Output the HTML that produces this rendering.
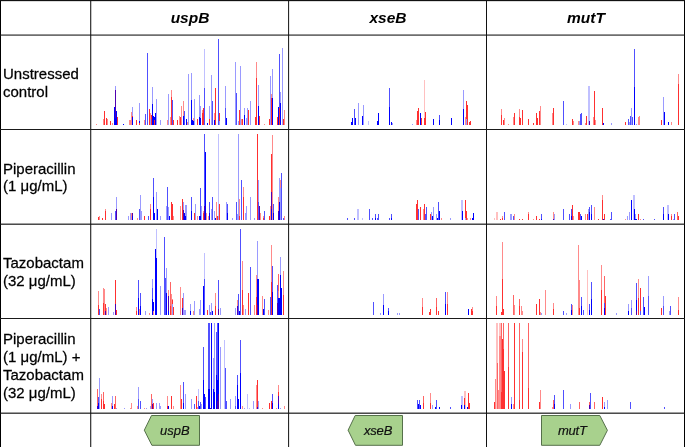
<!DOCTYPE html>
<html><head><meta charset="utf-8"><style>
html,body{margin:0;padding:0;background:#fff;}
body{-webkit-font-smoothing:antialiased;width:685px;height:447px;position:relative;overflow:hidden;font-family:"Liberation Sans",sans-serif;color:#000;}
svg{position:absolute;left:0;top:0;}
.t{position:absolute;will-change:transform;font-size:15px;line-height:18px;white-space:nowrap;-webkit-text-stroke:0.25px #000;transform:scaleY(1.001);transform-origin:0 14.2px;}
.h{position:absolute;will-change:transform;font-size:15.5px;line-height:18px;font-weight:bold;font-style:italic;text-align:center;width:198px;}
.g{position:absolute;will-change:transform;font-size:13px;line-height:15px;-webkit-text-stroke:0.2px #111;font-style:italic;white-space:nowrap;color:#111;}
</style></head><body>
<svg width="685" height="447" viewBox="0 0 685 447" shape-rendering="crispEdges">
<rect x="218" y="39" width="1" height="85.8" fill="#5050ff"/>
<rect x="282" y="48" width="1" height="76.8" fill="#9a9aff"/>
<rect x="204" y="49" width="1" height="75.8" fill="#c0c0ff"/>
<rect x="147" y="53" width="1" height="71.8" fill="#5050ff"/>
<rect x="279" y="54" width="1" height="70.8" fill="#5050ff"/>
<rect x="235" y="62" width="1" height="62.8" fill="#9a9aff"/>
<rect x="256" y="62" width="1" height="62.8" fill="#ff8a8a"/>
<rect x="240" y="66" width="1" height="58.8" fill="#9a9aff"/>
<rect x="272" y="69" width="1" height="55.8" fill="#9a9aff"/>
<rect x="191" y="73.2" width="1" height="51.6" fill="#9a9aff"/>
<rect x="188" y="73.7" width="1" height="51.1" fill="#9a9aff"/>
<rect x="211" y="75" width="1" height="49.8" fill="#9a9aff"/>
<rect x="270" y="76" width="1" height="48.8" fill="#9a9aff"/>
<rect x="256" y="78" width="1" height="46.8" fill="#ff3030"/>
<rect x="258" y="85" width="1" height="39.8" fill="#9a9aff"/>
<rect x="115" y="86" width="1" height="38.8" fill="#9a9aff"/>
<rect x="225" y="86" width="1" height="38.8" fill="#9a9aff"/>
<rect x="152" y="87" width="1" height="37.8" fill="#9a9aff"/>
<rect x="204" y="88" width="1" height="36.8" fill="#5050ff"/>
<rect x="215" y="88" width="1" height="36.8" fill="#ff3030"/>
<rect x="171" y="89.5" width="1" height="35.3" fill="#ff8a8a"/>
<rect x="115" y="90" width="1" height="34.8" fill="#5000b0"/>
<rect x="280" y="92" width="1" height="32.8" fill="#9a9aff"/>
<rect x="236" y="93" width="1" height="31.8" fill="#5050ff"/>
<rect x="168" y="94" width="1" height="30.8" fill="#9a9aff"/>
<rect x="271" y="94" width="1" height="30.8" fill="#ff8a8a"/>
<rect x="199" y="95" width="1" height="29.8" fill="#9a9aff"/>
<rect x="171" y="97" width="1" height="27.8" fill="#ff3030"/>
<rect x="271" y="98" width="1" height="26.8" fill="#ff3030"/>
<rect x="272" y="98" width="1" height="26.8" fill="#0000ff"/>
<rect x="156" y="99" width="1" height="25.8" fill="#9a9aff"/>
<rect x="194" y="99" width="1" height="25.8" fill="#9a9aff"/>
<rect x="172" y="100" width="1" height="24.8" fill="#5050ff"/>
<rect x="191" y="100" width="1" height="24.8" fill="#0000ff"/>
<rect x="183" y="101" width="1" height="23.8" fill="#ff8a8a"/>
<rect x="212" y="101" width="1" height="23.8" fill="#5050ff"/>
<rect x="250" y="101" width="1" height="23.8" fill="#9a9aff"/>
<rect x="139" y="103" width="1" height="21.8" fill="#9a9aff"/>
<rect x="280" y="103" width="1" height="21.8" fill="#0000ff"/>
<rect x="152" y="104" width="1" height="20.8" fill="#0000ff"/>
<rect x="181" y="106" width="1" height="18.8" fill="#ff8a8a"/>
<rect x="200" y="106" width="1" height="18.8" fill="#9a9aff"/>
<rect x="209" y="106" width="1" height="18.8" fill="#9a9aff"/>
<rect x="258" y="106" width="1" height="18.8" fill="#0000ff"/>
<rect x="114" y="107" width="1" height="17.8" fill="#0000ff"/>
<rect x="132" y="107" width="1" height="17.8" fill="#9a9aff"/>
<rect x="278" y="107" width="1" height="17.8" fill="#0000ff"/>
<rect x="203" y="108" width="1" height="16.8" fill="#ff3030"/>
<rect x="225" y="108" width="1" height="16.8" fill="#5050ff"/>
<rect x="244" y="108" width="1" height="16.8" fill="#9a9aff"/>
<rect x="247" y="108" width="1" height="16.8" fill="#9a9aff"/>
<rect x="279" y="108" width="1" height="16.8" fill="#ff3030"/>
<rect x="149" y="109" width="1" height="15.8" fill="#ff3030"/>
<rect x="202" y="110" width="1" height="14.8" fill="#ff8a8a"/>
<rect x="239" y="110" width="1" height="14.8" fill="#ff3030"/>
<rect x="248" y="110" width="1" height="14.8" fill="#ff3030"/>
<rect x="284" y="110" width="1" height="14.8" fill="#ff8a8a"/>
<rect x="104" y="111" width="1" height="13.8" fill="#ff3030"/>
<rect x="116" y="111" width="1" height="13.8" fill="#0000ff"/>
<rect x="184" y="111" width="1" height="13.8" fill="#5050ff"/>
<rect x="131" y="112" width="1" height="12.8" fill="#ff8a8a"/>
<rect x="150" y="113" width="1" height="11.8" fill="#ff8a8a"/>
<rect x="155" y="113" width="1" height="11.8" fill="#0000ff"/>
<rect x="202" y="113" width="1" height="11.8" fill="#ff3030"/>
<rect x="214" y="113" width="1" height="11.8" fill="#ff8a8a"/>
<rect x="219" y="113" width="1" height="11.8" fill="#ff3030"/>
<rect x="145" y="114" width="1" height="10.8" fill="#5050ff"/>
<rect x="151" y="115" width="1" height="9.8" fill="#ff3030"/>
<rect x="244" y="115" width="1" height="9.8" fill="#0000ff"/>
<rect x="132" y="116" width="1" height="8.8" fill="#ff3030"/>
<rect x="153" y="116" width="1" height="8.8" fill="#0000ff"/>
<rect x="179" y="116" width="1" height="8.8" fill="#ff8a8a"/>
<rect x="183" y="116" width="1" height="8.8" fill="#0000ff"/>
<rect x="259" y="116" width="1" height="8.8" fill="#ff3030"/>
<rect x="117" y="117" width="1" height="7.8" fill="#ff3030"/>
<rect x="132" y="117" width="1" height="7.8" fill="#0000ff"/>
<rect x="154" y="117" width="1" height="7.8" fill="#0000ff"/>
<rect x="170" y="117" width="1" height="7.8" fill="#ff8a8a"/>
<rect x="180" y="117" width="1" height="7.8" fill="#ff3030"/>
<rect x="199" y="117" width="1" height="7.8" fill="#0000ff"/>
<rect x="255" y="117" width="1" height="7.8" fill="#ff3030"/>
<rect x="277" y="117" width="1" height="7.8" fill="#ff3030"/>
<rect x="106" y="118" width="1" height="6.8" fill="#ff3030"/>
<rect x="115" y="118" width="1" height="6.8" fill="#0000ff"/>
<rect x="116" y="118" width="1" height="6.8" fill="#0000ff"/>
<rect x="193" y="118" width="1" height="6.8" fill="#ff8a8a"/>
<rect x="200" y="118" width="1" height="6.8" fill="#0000ff"/>
<rect x="226" y="118" width="1" height="6.8" fill="#0000ff"/>
<rect x="246" y="118" width="1" height="6.8" fill="#9a9aff"/>
<rect x="103" y="119" width="1" height="5.8" fill="#ff8a8a"/>
<rect x="107" y="119" width="1" height="5.8" fill="#ff8a8a"/>
<rect x="150" y="119" width="1" height="5.8" fill="#9a9aff"/>
<rect x="186" y="119" width="1" height="5.8" fill="#0000ff"/>
<rect x="197" y="119" width="1" height="5.8" fill="#ff3030"/>
<rect x="209" y="119" width="1" height="5.8" fill="#ff3030"/>
<rect x="241" y="119" width="1" height="5.8" fill="#ff8a8a"/>
<rect x="242" y="119" width="1" height="5.8" fill="#ff3030"/>
<rect x="269" y="119" width="1" height="5.8" fill="#ff3030"/>
<rect x="283" y="119" width="1" height="5.8" fill="#ff3030"/>
<rect x="129" y="120" width="1" height="4.8" fill="#ff8a8a"/>
<rect x="130" y="120" width="1" height="4.8" fill="#ff8a8a"/>
<rect x="136" y="120" width="1" height="4.8" fill="#ff3030"/>
<rect x="144" y="120" width="1" height="4.8" fill="#ff8a8a"/>
<rect x="154" y="120" width="1" height="4.8" fill="#ff3030"/>
<rect x="160" y="120" width="1" height="4.8" fill="#9a9aff"/>
<rect x="167" y="120" width="1" height="4.8" fill="#ff8a8a"/>
<rect x="173" y="120" width="1" height="4.8" fill="#ff3030"/>
<rect x="177" y="120" width="1" height="4.8" fill="#ff3030"/>
<rect x="192" y="120" width="1" height="4.8" fill="#0000ff"/>
<rect x="214" y="120" width="1" height="4.8" fill="#0000ff"/>
<rect x="110" y="120.5" width="1" height="4.3" fill="#ff3030"/>
<rect x="139" y="121" width="1" height="3.8" fill="#0000ff"/>
<rect x="193" y="121" width="1" height="3.8" fill="#0000ff"/>
<rect x="219" y="121" width="1" height="3.8" fill="#9a9aff"/>
<rect x="238" y="121" width="1" height="3.8" fill="#9a9aff"/>
<rect x="187" y="122" width="1" height="2.8" fill="#ff8a8a"/>
<rect x="112" y="123" width="1" height="1.8" fill="#ff8a8a"/>
<rect x="139" y="123" width="1" height="1.8" fill="#ff3030"/>
<rect x="207" y="123" width="1" height="1.8" fill="#0000ff"/>
<rect x="96" y="124" width="1" height="0.8" fill="#ff8a8a"/>
<rect x="123" y="124" width="1" height="0.8" fill="#0000ff"/>
<rect x="264" y="124" width="1" height="0.8" fill="#ff8a8a"/>
<rect x="424" y="79.6" width="1" height="45.2" fill="#ffc0c0"/>
<rect x="389" y="88" width="1" height="36.8" fill="#5050ff"/>
<rect x="463" y="90" width="1" height="34.8" fill="#9a9aff"/>
<rect x="466" y="101" width="1" height="23.8" fill="#ff3030"/>
<rect x="358" y="103" width="1" height="21.8" fill="#9a9aff"/>
<rect x="467" y="104.7" width="1" height="20.1" fill="#ff3030"/>
<rect x="363" y="105" width="1" height="19.8" fill="#9a9aff"/>
<rect x="389" y="107" width="1" height="17.8" fill="#0000ff"/>
<rect x="418" y="108.3" width="1" height="16.5" fill="#ff3030"/>
<rect x="354" y="109" width="1" height="15.8" fill="#5050ff"/>
<rect x="463" y="109" width="1" height="15.8" fill="#0000ff"/>
<rect x="417" y="111" width="1" height="13.8" fill="#ff3030"/>
<rect x="425" y="112" width="1" height="12.8" fill="#ff3030"/>
<rect x="378" y="113.4" width="1" height="11.4" fill="#0000ff"/>
<rect x="420" y="113.4" width="1" height="11.4" fill="#0000ff"/>
<rect x="439" y="115" width="1" height="9.8" fill="#5050ff"/>
<rect x="362" y="116" width="1" height="8.8" fill="#0000ff"/>
<rect x="465" y="117.4" width="1" height="7.4" fill="#ff8a8a"/>
<rect x="355" y="118" width="1" height="6.8" fill="#0000ff"/>
<rect x="421" y="118" width="1" height="6.8" fill="#ff3030"/>
<rect x="424" y="118" width="1" height="6.8" fill="#ff3030"/>
<rect x="451" y="118" width="1" height="6.8" fill="#0000ff"/>
<rect x="352" y="118.4" width="1" height="6.4" fill="#0000ff"/>
<rect x="433" y="119" width="1" height="5.8" fill="#0000ff"/>
<rect x="466" y="119" width="1" height="5.8" fill="#9a9aff"/>
<rect x="439" y="120" width="1" height="4.8" fill="#0000ff"/>
<rect x="416" y="120.4" width="1" height="4.4" fill="#ff8a8a"/>
<rect x="368" y="120.5" width="1" height="4.3" fill="#c0c0ff"/>
<rect x="377" y="120.5" width="1" height="4.3" fill="#0000ff"/>
<rect x="470" y="120.7" width="1" height="4.1" fill="#ff3030"/>
<rect x="391" y="121.5" width="1" height="3.3" fill="#0000ff"/>
<rect x="469" y="121.7" width="1" height="3.1" fill="#ff3030"/>
<rect x="351" y="122" width="1" height="2.8" fill="#0000ff"/>
<rect x="392" y="123" width="1" height="1.8" fill="#9a9aff"/>
<rect x="412" y="124" width="1" height="0.8" fill="#9a9aff"/>
<rect x="634" y="49" width="1" height="75.8" fill="#5050ff"/>
<rect x="678" y="73.8" width="1" height="51.0" fill="#ff8a8a"/>
<rect x="678" y="84" width="1" height="40.8" fill="#ff3030"/>
<rect x="588" y="86.3" width="2" height="38.5" fill="#c0c0ff"/>
<rect x="634" y="87" width="1" height="37.8" fill="#0000ff"/>
<rect x="594" y="91" width="1" height="33.8" fill="#ff3030"/>
<rect x="663" y="96.7" width="1" height="28.1" fill="#9a9aff"/>
<rect x="563" y="101" width="1" height="23.8" fill="#5050ff"/>
<rect x="540" y="106.2" width="1" height="18.6" fill="#ff8a8a"/>
<rect x="553" y="108" width="1" height="16.8" fill="#ff3030"/>
<rect x="602" y="108" width="1" height="16.8" fill="#ff3030"/>
<rect x="631" y="108" width="1" height="16.8" fill="#9a9aff"/>
<rect x="501" y="108.6" width="1" height="16.2" fill="#ff8a8a"/>
<rect x="519" y="109" width="1" height="15.8" fill="#ff8a8a"/>
<rect x="522" y="110.3" width="1" height="14.5" fill="#ff3030"/>
<rect x="539" y="110.8" width="1" height="14.0" fill="#ff3030"/>
<rect x="664" y="111.7" width="1" height="13.1" fill="#0000ff"/>
<rect x="514" y="113.4" width="1" height="11.4" fill="#ff3030"/>
<rect x="536" y="113.4" width="1" height="11.4" fill="#ff3030"/>
<rect x="552" y="113.4" width="1" height="11.4" fill="#ff8a8a"/>
<rect x="581" y="113.4" width="1" height="11.4" fill="#5050ff"/>
<rect x="580" y="114.2" width="1" height="10.6" fill="#5050ff"/>
<rect x="501" y="115.2" width="1" height="9.6" fill="#ff3030"/>
<rect x="586" y="115.7" width="1" height="9.1" fill="#ff3030"/>
<rect x="639" y="115.7" width="1" height="9.1" fill="#ff8a8a"/>
<rect x="630" y="115.8" width="1" height="9.0" fill="#5050ff"/>
<rect x="638" y="116.8" width="1" height="8.0" fill="#ff8a8a"/>
<rect x="513" y="117" width="1" height="7.8" fill="#ff8a8a"/>
<rect x="519" y="117" width="1" height="7.8" fill="#ff3030"/>
<rect x="593" y="117.3" width="1" height="7.5" fill="#ff8a8a"/>
<rect x="632" y="117.3" width="1" height="7.5" fill="#5050ff"/>
<rect x="504" y="117.6" width="1" height="7.2" fill="#ff8a8a"/>
<rect x="537" y="118" width="1" height="6.8" fill="#ff3030"/>
<rect x="520" y="118.2" width="1" height="6.6" fill="#ff3030"/>
<rect x="528" y="119" width="1" height="5.8" fill="#ff3030"/>
<rect x="572" y="119.4" width="1" height="5.4" fill="#ff3030"/>
<rect x="628" y="119.4" width="1" height="5.4" fill="#5050ff"/>
<rect x="595" y="120" width="1" height="4.8" fill="#ff8a8a"/>
<rect x="661" y="120.3" width="1" height="4.5" fill="#ff3030"/>
<rect x="503" y="120.4" width="1" height="4.4" fill="#ff3030"/>
<rect x="573" y="120.5" width="1" height="4.3" fill="#ff8a8a"/>
<rect x="578" y="120.5" width="1" height="4.3" fill="#ff8a8a"/>
<rect x="579" y="120.5" width="1" height="4.3" fill="#9a9aff"/>
<rect x="589" y="121.2" width="1" height="3.6" fill="#5000b0"/>
<rect x="625" y="122" width="1" height="2.8" fill="#ff3030"/>
<rect x="629" y="122" width="1" height="2.8" fill="#9a9aff"/>
<rect x="668" y="122.2" width="1" height="2.6" fill="#0000ff"/>
<rect x="671" y="122.2" width="1" height="2.6" fill="#ff8a8a"/>
<rect x="603" y="122.6" width="1" height="2.2" fill="#0000ff"/>
<rect x="533" y="123" width="1" height="1.8" fill="#ff3030"/>
<rect x="585" y="123" width="1" height="1.8" fill="#ff8a8a"/>
<rect x="611" y="123" width="1" height="1.8" fill="#9a9aff"/>
<rect x="566" y="123.5" width="1" height="1.3" fill="#c0c0ff"/>
<rect x="636" y="123.5" width="1" height="1.3" fill="#9a9aff"/>
<rect x="508" y="124" width="1" height="0.8" fill="#ff8a8a"/>
<rect x="204" y="134.1" width="1" height="85.6" fill="#5050ff"/>
<rect x="218" y="134.1" width="1" height="85.6" fill="#c0c0ff"/>
<rect x="238" y="134.1" width="1" height="85.6" fill="#9a9aff"/>
<rect x="257" y="134.1" width="1" height="85.6" fill="#ff3030"/>
<rect x="272" y="135.1" width="1" height="84.6" fill="#ff8a8a"/>
<rect x="205" y="151.6" width="1" height="68.1" fill="#0000ff"/>
<rect x="271" y="153.8" width="1" height="65.9" fill="#ff3030"/>
<rect x="281" y="172.8" width="1" height="46.9" fill="#5050ff"/>
<rect x="153" y="178" width="1" height="41.7" fill="#5050ff"/>
<rect x="279" y="178" width="1" height="41.7" fill="#9a9aff"/>
<rect x="241" y="180.1" width="1" height="39.6" fill="#5050ff"/>
<rect x="258" y="180.1" width="1" height="39.6" fill="#9a9aff"/>
<rect x="280" y="180.3" width="1" height="39.4" fill="#ff8a8a"/>
<rect x="167" y="187.1" width="1" height="32.6" fill="#5050ff"/>
<rect x="243" y="187.1" width="1" height="32.6" fill="#ff8a8a"/>
<rect x="200" y="187.5" width="1" height="32.2" fill="#5050ff"/>
<rect x="280" y="187.7" width="1" height="32.0" fill="#9a9aff"/>
<rect x="271" y="191.9" width="1" height="27.8" fill="#5000b0"/>
<rect x="156" y="192.1" width="1" height="27.6" fill="#9a9aff"/>
<rect x="140" y="194.5" width="1" height="25.2" fill="#9a9aff"/>
<rect x="243" y="196.6" width="1" height="23.1" fill="#ff3030"/>
<rect x="116" y="196.9" width="1" height="22.8" fill="#9a9aff"/>
<rect x="191" y="196.9" width="1" height="22.8" fill="#5050ff"/>
<rect x="212" y="196.9" width="1" height="22.8" fill="#5050ff"/>
<rect x="250" y="196.9" width="1" height="22.8" fill="#9a9aff"/>
<rect x="153" y="197" width="1" height="22.7" fill="#0000ff"/>
<rect x="278" y="197.1" width="1" height="22.6" fill="#ff8a8a"/>
<rect x="182" y="199" width="1" height="20.7" fill="#ff3030"/>
<rect x="239" y="199" width="1" height="20.7" fill="#ff8a8a"/>
<rect x="171" y="201.5" width="1" height="18.2" fill="#ff3030"/>
<rect x="236" y="201.5" width="1" height="18.2" fill="#5050ff"/>
<rect x="183" y="201.9" width="1" height="17.8" fill="#9a9aff"/>
<rect x="209" y="201.9" width="1" height="17.8" fill="#5050ff"/>
<rect x="216" y="201.9" width="1" height="17.8" fill="#ff8a8a"/>
<rect x="226" y="201.9" width="1" height="17.8" fill="#9a9aff"/>
<rect x="258" y="201.9" width="1" height="17.8" fill="#5050ff"/>
<rect x="279" y="201.9" width="1" height="17.8" fill="#0000ff"/>
<rect x="150" y="204" width="1" height="15.7" fill="#ff8a8a"/>
<rect x="172" y="204" width="1" height="15.7" fill="#ff3030"/>
<rect x="195" y="204" width="1" height="15.7" fill="#9a9aff"/>
<rect x="219" y="204" width="1" height="15.7" fill="#ff3030"/>
<rect x="227" y="204" width="1" height="15.7" fill="#5050ff"/>
<rect x="273" y="204" width="1" height="15.7" fill="#5050ff"/>
<rect x="185" y="204.5" width="1" height="15.2" fill="#9a9aff"/>
<rect x="186" y="204.5" width="1" height="15.2" fill="#9a9aff"/>
<rect x="166" y="206.1" width="1" height="13.6" fill="#9a9aff"/>
<rect x="180" y="206.1" width="1" height="13.6" fill="#ff8a8a"/>
<rect x="201" y="206.1" width="1" height="13.6" fill="#9a9aff"/>
<rect x="204" y="206.1" width="1" height="13.6" fill="#5000b0"/>
<rect x="246" y="206.1" width="1" height="13.6" fill="#9a9aff"/>
<rect x="259" y="206.1" width="1" height="13.6" fill="#5000b0"/>
<rect x="270" y="206.1" width="1" height="13.6" fill="#ff8a8a"/>
<rect x="168" y="206.6" width="1" height="13.1" fill="#9a9aff"/>
<rect x="105" y="208.7" width="1" height="11.0" fill="#ff8a8a"/>
<rect x="116" y="208.7" width="1" height="11.0" fill="#5000b0"/>
<rect x="150" y="208.7" width="1" height="11.0" fill="#ff3030"/>
<rect x="157" y="208.7" width="1" height="11.0" fill="#0000ff"/>
<rect x="271" y="208.7" width="1" height="11.0" fill="#0000ff"/>
<rect x="139" y="209.2" width="1" height="10.5" fill="#5050ff"/>
<rect x="211" y="209.2" width="1" height="10.5" fill="#9a9aff"/>
<rect x="183" y="210" width="1" height="9.7" fill="#5000b0"/>
<rect x="105" y="210.8" width="1" height="8.9" fill="#ff3030"/>
<rect x="115" y="210.8" width="1" height="8.9" fill="#5050ff"/>
<rect x="191" y="210.8" width="1" height="8.9" fill="#0000ff"/>
<rect x="203" y="210.8" width="1" height="8.9" fill="#ff8a8a"/>
<rect x="214" y="210.8" width="1" height="8.9" fill="#9a9aff"/>
<rect x="278" y="210.8" width="1" height="8.9" fill="#5000b0"/>
<rect x="264" y="211" width="1" height="8.7" fill="#5050ff"/>
<rect x="141" y="211.3" width="1" height="8.4" fill="#9a9aff"/>
<rect x="111" y="213.4" width="1" height="6.3" fill="#9a9aff"/>
<rect x="131" y="213.4" width="1" height="6.3" fill="#ff8a8a"/>
<rect x="130" y="213.4" width="1" height="6.3" fill="#9a9aff"/>
<rect x="132" y="213.4" width="1" height="6.3" fill="#5000b0"/>
<rect x="154" y="213.4" width="1" height="6.3" fill="#0000ff"/>
<rect x="184" y="213.4" width="1" height="6.3" fill="#0000ff"/>
<rect x="194" y="213.4" width="1" height="6.3" fill="#ff3030"/>
<rect x="203" y="213.4" width="1" height="6.3" fill="#ff3030"/>
<rect x="206" y="213.4" width="1" height="6.3" fill="#ff8a8a"/>
<rect x="209" y="213.4" width="1" height="6.3" fill="#0000ff"/>
<rect x="227" y="213.4" width="1" height="6.3" fill="#0000ff"/>
<rect x="245" y="213.4" width="1" height="6.3" fill="#9a9aff"/>
<rect x="260" y="213.4" width="1" height="6.3" fill="#ff8a8a"/>
<rect x="273" y="213.4" width="1" height="6.3" fill="#0000ff"/>
<rect x="237" y="214" width="1" height="5.7" fill="#9a9aff"/>
<rect x="169" y="215.8" width="1" height="3.9" fill="#0000ff"/>
<rect x="99" y="216" width="1" height="3.7" fill="#ff8a8a"/>
<rect x="128" y="216" width="1" height="3.7" fill="#9a9aff"/>
<rect x="132" y="216" width="1" height="3.7" fill="#0000ff"/>
<rect x="144" y="216" width="1" height="3.7" fill="#ff3030"/>
<rect x="148" y="216" width="1" height="3.7" fill="#5050ff"/>
<rect x="160" y="216" width="1" height="3.7" fill="#9a9aff"/>
<rect x="173" y="216" width="1" height="3.7" fill="#ff8a8a"/>
<rect x="185" y="216" width="1" height="3.7" fill="#0000ff"/>
<rect x="197" y="216" width="1" height="3.7" fill="#ff8a8a"/>
<rect x="199" y="216" width="1" height="3.7" fill="#0000ff"/>
<rect x="200" y="216" width="1" height="3.7" fill="#0000ff"/>
<rect x="208" y="216" width="1" height="3.7" fill="#ff8a8a"/>
<rect x="217" y="216" width="1" height="3.7" fill="#ff3030"/>
<rect x="218" y="216" width="1" height="3.7" fill="#9a9aff"/>
<rect x="239" y="216" width="1" height="3.7" fill="#ff3030"/>
<rect x="263" y="216" width="1" height="3.7" fill="#ff8a8a"/>
<rect x="269" y="216" width="1" height="3.7" fill="#ff3030"/>
<rect x="284" y="216" width="1" height="3.7" fill="#ff8a8a"/>
<rect x="98" y="216.6" width="1" height="3.1" fill="#ff3030"/>
<rect x="137" y="218" width="1" height="1.7" fill="#ff8a8a"/>
<rect x="215" y="218" width="1" height="1.7" fill="#0000ff"/>
<rect x="232" y="218" width="1" height="1.7" fill="#9a9aff"/>
<rect x="254" y="218" width="1" height="1.7" fill="#9a9aff"/>
<rect x="263" y="218" width="1" height="1.7" fill="#ff3030"/>
<rect x="283" y="218" width="1" height="1.7" fill="#5050ff"/>
<rect x="102" y="218.2" width="1" height="1.5" fill="#ff3030"/>
<rect x="417" y="199.5" width="1" height="20.2" fill="#ff3030"/>
<rect x="461" y="199.7" width="2" height="20.0" fill="#c0c0ff"/>
<rect x="465" y="199.7" width="1" height="20.0" fill="#ff3030"/>
<rect x="438" y="202" width="1" height="17.7" fill="#5050ff"/>
<rect x="416" y="204.2" width="1" height="15.5" fill="#ff3030"/>
<rect x="424" y="204.2" width="1" height="15.5" fill="#ff3030"/>
<rect x="426" y="206.9" width="1" height="12.8" fill="#5050ff"/>
<rect x="433" y="206.9" width="1" height="12.8" fill="#9a9aff"/>
<rect x="420" y="207.2" width="1" height="12.5" fill="#ff3030"/>
<rect x="357" y="209" width="2" height="10.7" fill="#c0c0ff"/>
<rect x="369" y="209" width="1" height="10.7" fill="#5050ff"/>
<rect x="418" y="209" width="1" height="10.7" fill="#5050ff"/>
<rect x="423" y="209.3" width="1" height="10.4" fill="#ff8a8a"/>
<rect x="462" y="210.8" width="1" height="8.9" fill="#0000ff"/>
<rect x="466" y="210.8" width="1" height="8.9" fill="#ff3030"/>
<rect x="439" y="211.2" width="1" height="8.5" fill="#0000ff"/>
<rect x="431" y="211.5" width="1" height="8.2" fill="#9a9aff"/>
<rect x="473" y="213.2" width="1" height="6.5" fill="#0000ff"/>
<rect x="375" y="213.5" width="1" height="6.2" fill="#5050ff"/>
<rect x="378" y="213.5" width="1" height="6.2" fill="#5050ff"/>
<rect x="391" y="213.5" width="1" height="6.2" fill="#5050ff"/>
<rect x="425" y="213.7" width="1" height="6.0" fill="#5050ff"/>
<rect x="430" y="213.7" width="1" height="6.0" fill="#ff3030"/>
<rect x="436" y="213.7" width="1" height="6.0" fill="#9a9aff"/>
<rect x="432" y="215.9" width="1" height="3.8" fill="#0000ff"/>
<rect x="465" y="217.5" width="1" height="2.2" fill="#9a9aff"/>
<rect x="467" y="217.5" width="1" height="2.2" fill="#ff8a8a"/>
<rect x="347" y="218" width="1" height="1.7" fill="#5050ff"/>
<rect x="354" y="218" width="1" height="1.7" fill="#5050ff"/>
<rect x="362" y="218" width="1" height="1.7" fill="#c0c0ff"/>
<rect x="372" y="218" width="1" height="1.7" fill="#5050ff"/>
<rect x="375" y="218" width="1" height="1.7" fill="#0000ff"/>
<rect x="377" y="218" width="1" height="1.7" fill="#5050ff"/>
<rect x="389" y="218" width="1" height="1.7" fill="#5050ff"/>
<rect x="391" y="218" width="1" height="1.7" fill="#0000ff"/>
<rect x="437" y="218" width="1" height="1.7" fill="#0000ff"/>
<rect x="441" y="218" width="1" height="1.7" fill="#ff8a8a"/>
<rect x="470" y="218" width="1" height="1.7" fill="#ff8a8a"/>
<rect x="472" y="218" width="1" height="1.7" fill="#0000ff"/>
<rect x="450" y="218.1" width="1" height="1.6" fill="#9a9aff"/>
<rect x="602" y="195.3" width="1" height="24.4" fill="#ff8a8a"/>
<rect x="633" y="195.3" width="2" height="24.4" fill="#c0c0ff"/>
<rect x="602" y="200.1" width="1" height="19.6" fill="#ff3030"/>
<rect x="631" y="200.1" width="1" height="19.6" fill="#0000ff"/>
<rect x="572" y="204.9" width="1" height="14.8" fill="#ff3030"/>
<rect x="591" y="204.9" width="1" height="14.8" fill="#5050ff"/>
<rect x="667" y="205" width="2" height="14.7" fill="#c0c0ff"/>
<rect x="663" y="207" width="1" height="12.7" fill="#5050ff"/>
<rect x="589" y="207.1" width="1" height="12.6" fill="#5050ff"/>
<rect x="594" y="207.1" width="1" height="12.6" fill="#ff8a8a"/>
<rect x="563" y="209.1" width="1" height="10.6" fill="#5050ff"/>
<rect x="571" y="209.1" width="1" height="10.6" fill="#5050ff"/>
<rect x="634" y="209.1" width="1" height="10.6" fill="#0000ff"/>
<rect x="588" y="209.3" width="1" height="10.4" fill="#9a9aff"/>
<rect x="553" y="211.9" width="1" height="7.8" fill="#ff8a8a"/>
<rect x="578" y="211.9" width="1" height="7.8" fill="#ff3030"/>
<rect x="611" y="211.9" width="1" height="7.8" fill="#5050ff"/>
<rect x="629" y="211.9" width="1" height="7.8" fill="#9a9aff"/>
<rect x="677" y="211.9" width="1" height="7.8" fill="#ff6464"/>
<rect x="496" y="212" width="2" height="7.7" fill="#ffc0c0"/>
<rect x="504" y="212" width="1" height="7.7" fill="#5050ff"/>
<rect x="528" y="212" width="1" height="7.7" fill="#ff8a8a"/>
<rect x="589" y="212" width="1" height="7.7" fill="#0000ff"/>
<rect x="579" y="212.3" width="1" height="7.4" fill="#ff3030"/>
<rect x="569" y="213.8" width="1" height="5.9" fill="#5050ff"/>
<rect x="604" y="213.8" width="1" height="5.9" fill="#ff3030"/>
<rect x="638" y="213.8" width="1" height="5.9" fill="#ff3030"/>
<rect x="510" y="214" width="2" height="5.7" fill="#9a9aff"/>
<rect x="514" y="214" width="1" height="5.7" fill="#ff8a8a"/>
<rect x="528" y="214" width="1" height="5.7" fill="#ff3030"/>
<rect x="541" y="214" width="1" height="5.7" fill="#5050ff"/>
<rect x="663" y="214" width="1" height="5.7" fill="#0000ff"/>
<rect x="668" y="214" width="1" height="5.7" fill="#0000ff"/>
<rect x="671" y="214" width="1" height="5.7" fill="#ff8a8a"/>
<rect x="674" y="214" width="1" height="5.7" fill="#5050ff"/>
<rect x="554" y="214.1" width="1" height="5.6" fill="#9a9aff"/>
<rect x="580" y="214.1" width="1" height="5.6" fill="#5050ff"/>
<rect x="585" y="214.1" width="1" height="5.6" fill="#ff8a8a"/>
<rect x="587" y="214.1" width="1" height="5.6" fill="#ff3030"/>
<rect x="591" y="214.1" width="1" height="5.6" fill="#0000ff"/>
<rect x="635" y="214.1" width="1" height="5.6" fill="#9a9aff"/>
<rect x="573" y="216" width="1" height="3.7" fill="#ff8a8a"/>
<rect x="671" y="216" width="1" height="3.7" fill="#ff3030"/>
<rect x="678" y="216" width="1" height="3.7" fill="#ff3030"/>
<rect x="627" y="216.1" width="1" height="3.6" fill="#9a9aff"/>
<rect x="502" y="216.2" width="1" height="3.5" fill="#ff8a8a"/>
<rect x="513" y="216.2" width="1" height="3.5" fill="#5050ff"/>
<rect x="536" y="216.2" width="1" height="3.5" fill="#ff3030"/>
<rect x="571" y="216.3" width="1" height="3.4" fill="#0000ff"/>
<rect x="581" y="216.3" width="1" height="3.4" fill="#0000ff"/>
<rect x="502" y="217.5" width="1" height="2.2" fill="#ff3030"/>
<rect x="494" y="218" width="1" height="1.7" fill="#ffc0c0"/>
<rect x="519" y="218.5" width="1" height="1.2" fill="#ff3030"/>
<rect x="522" y="218.5" width="1" height="1.2" fill="#ff3030"/>
<rect x="533" y="218.5" width="1" height="1.2" fill="#ff8a8a"/>
<rect x="539" y="218.5" width="1" height="1.2" fill="#ff3030"/>
<rect x="541" y="218.5" width="1" height="1.2" fill="#0000ff"/>
<rect x="553" y="218.5" width="1" height="1.2" fill="#5000b0"/>
<rect x="635" y="218.5" width="1" height="1.2" fill="#0000ff"/>
<rect x="636" y="218.5" width="1" height="1.2" fill="#0000ff"/>
<rect x="643" y="218.8" width="1" height="0.9" fill="#5050ff"/>
<rect x="654" y="218.8" width="1" height="0.9" fill="#5050ff"/>
<rect x="500" y="219" width="1" height="0.7" fill="#ff3030"/>
<rect x="598" y="219" width="1" height="0.7" fill="#ff3030"/>
<rect x="603" y="219" width="1" height="0.7" fill="#0000ff"/>
<rect x="610" y="219" width="1" height="0.7" fill="#5050ff"/>
<rect x="625" y="219" width="1" height="0.7" fill="#ff8a8a"/>
<rect x="640" y="219" width="1" height="0.7" fill="#ff8a8a"/>
<rect x="673" y="219" width="1" height="0.7" fill="#9a9aff"/>
<rect x="156" y="228.5" width="1" height="86.0" fill="#c0c0ff"/>
<rect x="240" y="228.5" width="1" height="86.0" fill="#5050ff"/>
<rect x="164" y="236.9" width="1" height="77.6" fill="#5050ff"/>
<rect x="257" y="240.8" width="1" height="73.7" fill="#9a9aff"/>
<rect x="271" y="245.2" width="1" height="69.3" fill="#ff8a8a"/>
<rect x="155" y="249" width="1" height="65.5" fill="#0000ff"/>
<rect x="204" y="253.4" width="1" height="61.1" fill="#c0c0ff"/>
<rect x="280" y="257.3" width="1" height="57.2" fill="#9a9aff"/>
<rect x="156" y="258" width="1" height="56.5" fill="#0000ff"/>
<rect x="242" y="261.2" width="1" height="53.3" fill="#ff8a8a"/>
<rect x="272" y="266.1" width="1" height="48.4" fill="#5050ff"/>
<rect x="250" y="266.8" width="1" height="47.7" fill="#5050ff"/>
<rect x="166" y="268.3" width="1" height="46.2" fill="#9a9aff"/>
<rect x="283" y="271" width="1" height="43.5" fill="#ff8a8a"/>
<rect x="278" y="274.2" width="1" height="40.3" fill="#ff6464"/>
<rect x="280" y="274.5" width="1" height="40.0" fill="#0000ff"/>
<rect x="256" y="275" width="1" height="39.5" fill="#ff8a8a"/>
<rect x="165" y="277.7" width="1" height="36.8" fill="#5050ff"/>
<rect x="257" y="279.1" width="1" height="35.4" fill="#0000ff"/>
<rect x="258" y="279.1" width="1" height="35.4" fill="#0000ff"/>
<rect x="152" y="279.3" width="1" height="35.2" fill="#9a9aff"/>
<rect x="204" y="279.3" width="1" height="35.2" fill="#5050ff"/>
<rect x="138" y="279.6" width="1" height="34.9" fill="#5050ff"/>
<rect x="115" y="280" width="1" height="34.5" fill="#ff3030"/>
<rect x="218" y="280" width="1" height="34.5" fill="#5050ff"/>
<rect x="170" y="282" width="1" height="32.5" fill="#ff6464"/>
<rect x="271" y="282" width="1" height="32.5" fill="#ff3030"/>
<rect x="277" y="284.9" width="1" height="29.6" fill="#5050ff"/>
<rect x="160" y="286.3" width="1" height="28.2" fill="#9a9aff"/>
<rect x="203" y="286.3" width="1" height="28.2" fill="#0000ff"/>
<rect x="180" y="287.1" width="1" height="27.4" fill="#ff8a8a"/>
<rect x="281" y="287.8" width="1" height="26.7" fill="#0000ff"/>
<rect x="103" y="287.9" width="1" height="26.6" fill="#ff8a8a"/>
<rect x="152" y="287.9" width="1" height="26.6" fill="#5050ff"/>
<rect x="104" y="289" width="1" height="25.5" fill="#ff8a8a"/>
<rect x="168" y="290" width="1" height="24.5" fill="#ff8a8a"/>
<rect x="242" y="290.2" width="1" height="24.3" fill="#ff3030"/>
<rect x="278" y="290.8" width="1" height="23.7" fill="#ff8a8a"/>
<rect x="98" y="291.1" width="1" height="23.4" fill="#ff8a8a"/>
<rect x="272" y="291.9" width="1" height="22.6" fill="#0000ff"/>
<rect x="248" y="292.8" width="1" height="21.7" fill="#ff3030"/>
<rect x="140" y="292.9" width="1" height="21.6" fill="#5050ff"/>
<rect x="166" y="293.2" width="1" height="21.3" fill="#0000ff"/>
<rect x="183" y="293.2" width="1" height="21.3" fill="#9a9aff"/>
<rect x="215" y="293.2" width="1" height="21.3" fill="#ff8a8a"/>
<rect x="238" y="294" width="1" height="20.5" fill="#5050ff"/>
<rect x="171" y="294.3" width="1" height="20.2" fill="#ff8a8a"/>
<rect x="283" y="294.8" width="1" height="19.7" fill="#ff3030"/>
<rect x="168" y="295.9" width="1" height="18.6" fill="#5000b0"/>
<rect x="262" y="296" width="1" height="18.5" fill="#ff8a8a"/>
<rect x="270" y="296.6" width="1" height="17.9" fill="#5050ff"/>
<rect x="256" y="297.1" width="1" height="17.4" fill="#ff3030"/>
<rect x="182" y="297.5" width="1" height="17.0" fill="#ff3030"/>
<rect x="138" y="298" width="1" height="16.5" fill="#0000ff"/>
<rect x="278" y="298" width="1" height="16.5" fill="#0000ff"/>
<rect x="279" y="298" width="1" height="16.5" fill="#0000ff"/>
<rect x="264" y="298.9" width="1" height="15.6" fill="#5050ff"/>
<rect x="152" y="299" width="1" height="15.5" fill="#0000ff"/>
<rect x="172" y="299.1" width="1" height="15.4" fill="#ff8a8a"/>
<rect x="237" y="300" width="1" height="14.5" fill="#ff8a8a"/>
<rect x="280" y="300" width="1" height="14.5" fill="#0000ff"/>
<rect x="172" y="300.2" width="1" height="14.3" fill="#ff3030"/>
<rect x="200" y="300.2" width="1" height="14.3" fill="#9a9aff"/>
<rect x="194" y="301.1" width="1" height="13.4" fill="#9a9aff"/>
<rect x="153" y="302.4" width="1" height="12.1" fill="#0000ff"/>
<rect x="211" y="302.9" width="1" height="11.6" fill="#9a9aff"/>
<rect x="277" y="303" width="1" height="11.5" fill="#5000b0"/>
<rect x="103" y="303.4" width="1" height="11.1" fill="#ff3030"/>
<rect x="172" y="303.5" width="1" height="11.0" fill="#9a9aff"/>
<rect x="105" y="304" width="1" height="10.5" fill="#ff3030"/>
<rect x="115" y="304" width="1" height="10.5" fill="#5000b0"/>
<rect x="190" y="304" width="1" height="10.5" fill="#9a9aff"/>
<rect x="243" y="304.7" width="1" height="9.8" fill="#ff8a8a"/>
<rect x="254" y="304.7" width="1" height="9.8" fill="#ff8a8a"/>
<rect x="209" y="305" width="1" height="9.5" fill="#9a9aff"/>
<rect x="257" y="305" width="1" height="9.5" fill="#5000b0"/>
<rect x="98" y="305.1" width="1" height="9.4" fill="#ff3030"/>
<rect x="170" y="305.5" width="1" height="9.0" fill="#ff3030"/>
<rect x="140" y="305.6" width="1" height="8.9" fill="#0000ff"/>
<rect x="237" y="305.9" width="1" height="8.6" fill="#5000b0"/>
<rect x="215" y="306.1" width="1" height="8.4" fill="#ff3030"/>
<rect x="173" y="306.6" width="1" height="7.9" fill="#ff3030"/>
<rect x="108" y="307.2" width="1" height="7.3" fill="#9a9aff"/>
<rect x="136" y="307.2" width="1" height="7.3" fill="#ff8a8a"/>
<rect x="235" y="307.6" width="1" height="6.9" fill="#9a9aff"/>
<rect x="106" y="307.7" width="1" height="6.8" fill="#ff8a8a"/>
<rect x="220" y="307.7" width="1" height="6.8" fill="#9a9aff"/>
<rect x="182" y="308" width="1" height="6.5" fill="#5000b0"/>
<rect x="99" y="308.8" width="1" height="5.7" fill="#5050ff"/>
<rect x="218" y="308.8" width="1" height="5.7" fill="#5000b0"/>
<rect x="245" y="308.8" width="1" height="5.7" fill="#9a9aff"/>
<rect x="139" y="309" width="1" height="5.5" fill="#ff8a8a"/>
<rect x="199" y="309" width="1" height="5.5" fill="#9a9aff"/>
<rect x="263" y="309" width="1" height="5.5" fill="#0000ff"/>
<rect x="207" y="309.9" width="1" height="4.6" fill="#ff3030"/>
<rect x="116" y="310" width="1" height="4.5" fill="#ff3030"/>
<rect x="184" y="310" width="1" height="4.5" fill="#9a9aff"/>
<rect x="185" y="310" width="1" height="4.5" fill="#9a9aff"/>
<rect x="268" y="310" width="1" height="4.5" fill="#ff8a8a"/>
<rect x="136" y="310.5" width="1" height="4.0" fill="#ff3030"/>
<rect x="168" y="310.5" width="1" height="4.0" fill="#0000ff"/>
<rect x="145" y="310.8" width="1" height="3.7" fill="#9a9aff"/>
<rect x="105" y="311" width="1" height="3.5" fill="#5000b0"/>
<rect x="153" y="311" width="1" height="3.5" fill="#ff8a8a"/>
<rect x="190" y="311" width="1" height="3.5" fill="#0000ff"/>
<rect x="193" y="311" width="1" height="3.5" fill="#ff8a8a"/>
<rect x="212" y="311" width="1" height="3.5" fill="#0000ff"/>
<rect x="239" y="311" width="1" height="3.5" fill="#0000ff"/>
<rect x="113" y="311.5" width="1" height="3.0" fill="#9a9aff"/>
<rect x="210" y="311.5" width="1" height="3.0" fill="#5050ff"/>
<rect x="149" y="313" width="1" height="1.5" fill="#ff8a8a"/>
<rect x="445" y="292.3" width="1" height="22.2" fill="#5050ff"/>
<rect x="447" y="292.3" width="1" height="22.2" fill="#ff8a8a"/>
<rect x="383" y="294.4" width="1" height="20.1" fill="#9a9aff"/>
<rect x="422" y="298" width="1" height="16.5" fill="#ff8a8a"/>
<rect x="436" y="298" width="1" height="16.5" fill="#ff6464"/>
<rect x="373" y="302" width="1" height="12.5" fill="#5050ff"/>
<rect x="445" y="304.2" width="1" height="10.3" fill="#0000ff"/>
<rect x="447" y="304.2" width="1" height="10.3" fill="#ff3030"/>
<rect x="383" y="305" width="1" height="9.5" fill="#0000ff"/>
<rect x="422" y="306.8" width="1" height="7.7" fill="#ff3030"/>
<rect x="436" y="306.8" width="1" height="7.7" fill="#ff3030"/>
<rect x="472" y="306.8" width="1" height="7.7" fill="#ff8a8a"/>
<rect x="388" y="307.9" width="1" height="6.6" fill="#5050ff"/>
<rect x="430" y="308.8" width="1" height="5.7" fill="#ff3030"/>
<rect x="468" y="308.8" width="1" height="5.7" fill="#0000ff"/>
<rect x="471" y="308.8" width="1" height="5.7" fill="#ff3030"/>
<rect x="438" y="310.9" width="1" height="3.6" fill="#ff3030"/>
<rect x="388" y="311" width="1" height="3.5" fill="#0000ff"/>
<rect x="472" y="311" width="1" height="3.5" fill="#ff3030"/>
<rect x="429" y="311.5" width="1" height="3.0" fill="#ff3030"/>
<rect x="380" y="313" width="1" height="1.5" fill="#9a9aff"/>
<rect x="397" y="313" width="1" height="1.5" fill="#9a9aff"/>
<rect x="399" y="313" width="1" height="1.5" fill="#9a9aff"/>
<rect x="502" y="241.9" width="1" height="72.6" fill="#ff8a8a"/>
<rect x="578" y="245.4" width="1" height="69.1" fill="#ff8a8a"/>
<rect x="601" y="264.8" width="1" height="49.7" fill="#ff8a8a"/>
<rect x="587" y="270.3" width="1" height="44.2" fill="#ffc0c0"/>
<rect x="648" y="275.7" width="1" height="38.8" fill="#9a9aff"/>
<rect x="604" y="276" width="1" height="38.5" fill="#ff6464"/>
<rect x="502" y="278.5" width="1" height="36.0" fill="#ff3030"/>
<rect x="638" y="279.4" width="1" height="35.1" fill="#ff8a8a"/>
<rect x="579" y="280" width="1" height="34.5" fill="#ff8a8a"/>
<rect x="591" y="282.1" width="1" height="32.4" fill="#5050ff"/>
<rect x="636" y="282.8" width="1" height="31.7" fill="#5050ff"/>
<rect x="640" y="287.8" width="1" height="26.7" fill="#ff3030"/>
<rect x="601" y="290.1" width="1" height="24.4" fill="#ff3030"/>
<rect x="545" y="290.3" width="1" height="24.2" fill="#ff8a8a"/>
<rect x="513" y="295" width="1" height="19.5" fill="#ff6464"/>
<rect x="496" y="296.1" width="1" height="18.4" fill="#ff8a8a"/>
<rect x="648" y="296.1" width="1" height="18.4" fill="#5050ff"/>
<rect x="663" y="296.1" width="1" height="18.4" fill="#9a9aff"/>
<rect x="605" y="296.3" width="1" height="18.2" fill="#ff3030"/>
<rect x="581" y="297" width="1" height="17.5" fill="#5050ff"/>
<rect x="643" y="297" width="1" height="17.5" fill="#5050ff"/>
<rect x="678" y="297" width="1" height="17.5" fill="#ff8a8a"/>
<rect x="638" y="298.2" width="1" height="16.3" fill="#ff3030"/>
<rect x="591" y="298.8" width="1" height="15.7" fill="#0000ff"/>
<rect x="519" y="299.1" width="1" height="15.4" fill="#ff6464"/>
<rect x="539" y="299.1" width="1" height="15.4" fill="#ff3030"/>
<rect x="631" y="300.1" width="1" height="14.4" fill="#9a9aff"/>
<rect x="636" y="300.1" width="1" height="14.4" fill="#0000ff"/>
<rect x="553" y="302.6" width="1" height="11.9" fill="#ff8a8a"/>
<rect x="604" y="303" width="1" height="11.5" fill="#5050ff"/>
<rect x="536" y="304" width="1" height="10.5" fill="#ff3030"/>
<rect x="628" y="304.1" width="1" height="10.4" fill="#9a9aff"/>
<rect x="571" y="304.2" width="1" height="10.3" fill="#5050ff"/>
<rect x="589" y="304.4" width="1" height="10.1" fill="#5050ff"/>
<rect x="514" y="305" width="1" height="9.5" fill="#ff8a8a"/>
<rect x="572" y="305.1" width="1" height="9.4" fill="#ff8a8a"/>
<rect x="496" y="305.9" width="1" height="8.6" fill="#ff3030"/>
<rect x="521" y="305.9" width="1" height="8.6" fill="#ff8a8a"/>
<rect x="519" y="306" width="1" height="8.5" fill="#ff3030"/>
<rect x="663" y="306.1" width="1" height="8.4" fill="#5050ff"/>
<rect x="670" y="306.1" width="1" height="8.4" fill="#5050ff"/>
<rect x="581" y="306.4" width="1" height="8.1" fill="#0000ff"/>
<rect x="644" y="307" width="1" height="7.5" fill="#0000ff"/>
<rect x="604" y="307.5" width="1" height="7.0" fill="#0000ff"/>
<rect x="579" y="307.8" width="1" height="6.7" fill="#ff3030"/>
<rect x="661" y="307.9" width="1" height="6.6" fill="#ff3030"/>
<rect x="631" y="308.2" width="1" height="6.3" fill="#5050ff"/>
<rect x="553" y="308.9" width="1" height="5.6" fill="#ff3030"/>
<rect x="503" y="309.4" width="1" height="5.1" fill="#ff3030"/>
<rect x="589" y="309.5" width="1" height="5.0" fill="#0000ff"/>
<rect x="678" y="309.9" width="1" height="4.6" fill="#ff3030"/>
<rect x="571" y="310" width="1" height="4.5" fill="#0000ff"/>
<rect x="583" y="310" width="1" height="4.5" fill="#5050ff"/>
<rect x="628" y="310.5" width="1" height="4.0" fill="#0000ff"/>
<rect x="669" y="310.8" width="1" height="3.7" fill="#9a9aff"/>
<rect x="563" y="310.9" width="1" height="3.6" fill="#5050ff"/>
<rect x="522" y="311.2" width="1" height="3.3" fill="#ff8a8a"/>
<rect x="636" y="311.4" width="1" height="3.1" fill="#5000b0"/>
<rect x="640" y="311.4" width="1" height="3.1" fill="#5050ff"/>
<rect x="501" y="311.5" width="1" height="3.0" fill="#ff3030"/>
<rect x="540" y="311.5" width="1" height="3.0" fill="#ff8a8a"/>
<rect x="541" y="312.5" width="1" height="2.0" fill="#9a9aff"/>
<rect x="566" y="312.5" width="1" height="2.0" fill="#9a9aff"/>
<rect x="616" y="313" width="1" height="1.5" fill="#9a9aff"/>
<rect x="208" y="323" width="2" height="86.4" fill="#5050ff"/>
<rect x="211" y="323" width="1" height="86.4" fill="#0000ff"/>
<rect x="214" y="323" width="1" height="86.4" fill="#9a9aff"/>
<rect x="217" y="323" width="1" height="86.4" fill="#5050ff"/>
<rect x="218" y="323" width="1" height="86.4" fill="#0000ff"/>
<rect x="216" y="332.2" width="1" height="77.2" fill="#5050ff"/>
<rect x="240" y="339.5" width="1" height="69.9" fill="#5050ff"/>
<rect x="224" y="339.6" width="1" height="69.8" fill="#c0c0ff"/>
<rect x="203" y="346.6" width="1" height="62.8" fill="#5050ff"/>
<rect x="220" y="346.6" width="1" height="62.8" fill="#9a9aff"/>
<rect x="213" y="358" width="1" height="51.4" fill="#9a9aff"/>
<rect x="225" y="368.2" width="1" height="41.2" fill="#5050ff"/>
<rect x="240" y="372.9" width="1" height="36.5" fill="#0000ff"/>
<rect x="216" y="374.6" width="1" height="34.8" fill="#0000ff"/>
<rect x="237" y="374.7" width="1" height="34.7" fill="#5050ff"/>
<rect x="237" y="375" width="1" height="34.4" fill="#5050ff"/>
<rect x="99" y="377.5" width="1" height="31.9" fill="#9a9aff"/>
<rect x="203" y="380" width="1" height="29.4" fill="#0000ff"/>
<rect x="217" y="380" width="1" height="29.4" fill="#0000ff"/>
<rect x="257" y="380" width="1" height="29.4" fill="#ff3030"/>
<rect x="183" y="382.1" width="1" height="27.3" fill="#5050ff"/>
<rect x="278" y="384.5" width="1" height="24.9" fill="#ff8a8a"/>
<rect x="180" y="384.8" width="1" height="24.6" fill="#ff8a8a"/>
<rect x="237" y="385" width="1" height="24.4" fill="#0000ff"/>
<rect x="256" y="385" width="1" height="24.4" fill="#ff8a8a"/>
<rect x="138" y="387.1" width="1" height="22.3" fill="#9a9aff"/>
<rect x="97" y="389" width="1" height="20.4" fill="#ff6464"/>
<rect x="198" y="389.3" width="1" height="20.1" fill="#c0c0ff"/>
<rect x="208" y="389.3" width="2" height="20.1" fill="#0000ff"/>
<rect x="213" y="389.3" width="1" height="20.1" fill="#0000ff"/>
<rect x="103" y="391.9" width="1" height="17.5" fill="#ff6464"/>
<rect x="278" y="391.9" width="1" height="17.5" fill="#ff3030"/>
<rect x="214" y="392" width="1" height="17.4" fill="#0000ff"/>
<rect x="204" y="393.9" width="1" height="15.5" fill="#0000ff"/>
<rect x="101" y="394" width="1" height="15.4" fill="#ff8a8a"/>
<rect x="151" y="394" width="1" height="15.4" fill="#ff6464"/>
<rect x="185" y="394" width="1" height="15.4" fill="#9a9aff"/>
<rect x="272" y="394" width="1" height="15.4" fill="#5050ff"/>
<rect x="218" y="394.3" width="1" height="15.1" fill="#5000b0"/>
<rect x="247" y="394.3" width="1" height="15.1" fill="#c0c0ff"/>
<rect x="112" y="396.1" width="1" height="13.3" fill="#9a9aff"/>
<rect x="115" y="396.1" width="1" height="13.3" fill="#ff6464"/>
<rect x="167" y="396.1" width="1" height="13.3" fill="#ff8a8a"/>
<rect x="171" y="396.1" width="1" height="13.3" fill="#ff3030"/>
<rect x="196" y="396.1" width="1" height="13.3" fill="#ff3030"/>
<rect x="235" y="396.1" width="1" height="13.3" fill="#9a9aff"/>
<rect x="278" y="396.1" width="1" height="13.3" fill="#5000b0"/>
<rect x="98" y="396.6" width="1" height="12.8" fill="#5050ff"/>
<rect x="205" y="396.6" width="1" height="12.8" fill="#5050ff"/>
<rect x="101" y="398.7" width="1" height="10.7" fill="#ff3030"/>
<rect x="152" y="398.7" width="1" height="10.7" fill="#9a9aff"/>
<rect x="181" y="398.7" width="1" height="10.7" fill="#ff3030"/>
<rect x="230" y="398.7" width="1" height="10.7" fill="#9a9aff"/>
<rect x="238" y="398.7" width="1" height="10.7" fill="#0000ff"/>
<rect x="138" y="399.2" width="1" height="10.2" fill="#5050ff"/>
<rect x="191" y="399.2" width="1" height="10.2" fill="#9a9aff"/>
<rect x="103" y="400.8" width="1" height="8.6" fill="#ff3030"/>
<rect x="140" y="401" width="1" height="8.4" fill="#5050ff"/>
<rect x="253" y="401" width="1" height="8.4" fill="#9a9aff"/>
<rect x="258" y="401" width="1" height="8.4" fill="#9a9aff"/>
<rect x="198" y="401.2" width="1" height="8.2" fill="#5050ff"/>
<rect x="217" y="401.2" width="1" height="8.2" fill="#5000b0"/>
<rect x="226" y="401.3" width="1" height="8.1" fill="#5050ff"/>
<rect x="271" y="401.3" width="1" height="8.1" fill="#ff3030"/>
<rect x="200" y="401.7" width="1" height="7.7" fill="#5050ff"/>
<rect x="156" y="402.9" width="1" height="6.5" fill="#9a9aff"/>
<rect x="159" y="402.9" width="1" height="6.5" fill="#9a9aff"/>
<rect x="98" y="403.4" width="1" height="6.0" fill="#0000ff"/>
<rect x="111" y="403.4" width="1" height="6.0" fill="#ff8a8a"/>
<rect x="131" y="403.4" width="1" height="6.0" fill="#ff8a8a"/>
<rect x="153" y="403.4" width="1" height="6.0" fill="#ff3030"/>
<rect x="183" y="403.4" width="1" height="6.0" fill="#0000ff"/>
<rect x="269" y="403.4" width="1" height="6.0" fill="#ff3030"/>
<rect x="272" y="403.4" width="1" height="6.0" fill="#0000ff"/>
<rect x="194" y="403.5" width="1" height="5.9" fill="#5050ff"/>
<rect x="201" y="403.5" width="1" height="5.9" fill="#9a9aff"/>
<rect x="278" y="403.5" width="1" height="5.9" fill="#0000ff"/>
<rect x="104" y="404" width="1" height="5.4" fill="#ff3030"/>
<rect x="114" y="404" width="1" height="5.4" fill="#ff3030"/>
<rect x="152" y="404" width="1" height="5.4" fill="#5000b0"/>
<rect x="112" y="405.5" width="1" height="3.9" fill="#0000ff"/>
<rect x="167" y="405.5" width="1" height="3.9" fill="#ff3030"/>
<rect x="199" y="405.8" width="1" height="3.6" fill="#0000ff"/>
<rect x="97" y="406" width="1" height="3.4" fill="#5000b0"/>
<rect x="137" y="406" width="1" height="3.4" fill="#ff8a8a"/>
<rect x="150" y="406" width="1" height="3.4" fill="#9a9aff"/>
<rect x="160" y="406" width="1" height="3.4" fill="#9a9aff"/>
<rect x="168" y="406" width="1" height="3.4" fill="#0000ff"/>
<rect x="173" y="406" width="1" height="3.4" fill="#ff8a8a"/>
<rect x="235" y="406" width="1" height="3.4" fill="#5050ff"/>
<rect x="242" y="406" width="1" height="3.4" fill="#ff8a8a"/>
<rect x="284" y="406" width="1" height="3.4" fill="#ff8a8a"/>
<rect x="197" y="406.5" width="1" height="2.9" fill="#ff8a8a"/>
<rect x="257" y="407" width="1" height="2.4" fill="#5000b0"/>
<rect x="210" y="407.6" width="1" height="1.8" fill="#5000b0"/>
<rect x="116" y="408" width="1" height="1.4" fill="#9a9aff"/>
<rect x="124" y="408" width="1" height="1.4" fill="#9a9aff"/>
<rect x="130" y="408" width="1" height="1.4" fill="#ff8a8a"/>
<rect x="144" y="408" width="1" height="1.4" fill="#ff8a8a"/>
<rect x="146" y="408" width="1" height="1.4" fill="#9a9aff"/>
<rect x="244" y="408" width="1" height="1.4" fill="#9a9aff"/>
<rect x="249" y="408" width="1" height="1.4" fill="#c0c0ff"/>
<rect x="262" y="408" width="1" height="1.4" fill="#ff8a8a"/>
<rect x="276" y="408" width="1" height="1.4" fill="#ff8a8a"/>
<rect x="280" y="408" width="1" height="1.4" fill="#9a9aff"/>
<rect x="464" y="391.1" width="2" height="18.3" fill="#ffc0c0"/>
<rect x="430" y="393.1" width="1" height="16.3" fill="#ff8a8a"/>
<rect x="468" y="393.2" width="1" height="16.2" fill="#ff3030"/>
<rect x="423" y="395.8" width="1" height="13.6" fill="#ff6464"/>
<rect x="461" y="396" width="2" height="13.4" fill="#c0c0ff"/>
<rect x="464" y="398" width="1" height="11.4" fill="#ff3030"/>
<rect x="417" y="400.4" width="1" height="9.0" fill="#5050ff"/>
<rect x="419" y="400.4" width="1" height="9.0" fill="#5050ff"/>
<rect x="436" y="400.4" width="1" height="9.0" fill="#5050ff"/>
<rect x="469" y="402.9" width="1" height="6.5" fill="#ff3030"/>
<rect x="423" y="403" width="1" height="6.4" fill="#ff3030"/>
<rect x="430" y="403" width="1" height="6.4" fill="#ff3030"/>
<rect x="418" y="403.6" width="1" height="5.8" fill="#0000ff"/>
<rect x="461" y="405" width="1" height="4.4" fill="#0000ff"/>
<rect x="464" y="405" width="1" height="4.4" fill="#0000ff"/>
<rect x="420" y="405.1" width="1" height="4.3" fill="#0000ff"/>
<rect x="432" y="405.1" width="1" height="4.3" fill="#9a9aff"/>
<rect x="435" y="407.4" width="1" height="2.0" fill="#0000ff"/>
<rect x="439" y="407.4" width="1" height="2.0" fill="#0000ff"/>
<rect x="450" y="407.4" width="1" height="2.0" fill="#5050ff"/>
<rect x="467" y="407.4" width="1" height="2.0" fill="#0000ff"/>
<rect x="496" y="323" width="2" height="86.4" fill="#ffc0c0"/>
<rect x="499" y="323" width="2" height="86.4" fill="#ffc0c0"/>
<rect x="501" y="323" width="1" height="86.4" fill="#ff6464"/>
<rect x="503" y="323" width="1" height="86.4" fill="#ff6464"/>
<rect x="508" y="323" width="1" height="86.4" fill="#ff6464"/>
<rect x="514" y="323" width="1" height="86.4" fill="#ff3030"/>
<rect x="519" y="323" width="1" height="86.4" fill="#ff6464"/>
<rect x="528" y="323" width="1" height="86.4" fill="#ff6464"/>
<rect x="499" y="336" width="2" height="73.4" fill="#ff8a8a"/>
<rect x="502" y="338.5" width="1" height="70.9" fill="#ff3030"/>
<rect x="522" y="338.5" width="1" height="70.9" fill="#ff8a8a"/>
<rect x="503" y="349" width="1" height="60.4" fill="#ff3030"/>
<rect x="522" y="352.2" width="1" height="57.2" fill="#ff3030"/>
<rect x="497" y="363" width="1" height="46.4" fill="#ff6464"/>
<rect x="508" y="366.6" width="1" height="42.8" fill="#ff3030"/>
<rect x="504" y="371.4" width="1" height="38.0" fill="#ff3030"/>
<rect x="495" y="378.7" width="1" height="30.7" fill="#ff8a8a"/>
<rect x="528" y="388" width="1" height="21.4" fill="#ff3030"/>
<rect x="540" y="390.2" width="1" height="19.2" fill="#ff8a8a"/>
<rect x="563" y="390.2" width="1" height="19.2" fill="#5050ff"/>
<rect x="498" y="390.3" width="1" height="19.1" fill="#ff8a8a"/>
<rect x="501" y="392" width="1" height="17.4" fill="#ff3030"/>
<rect x="590" y="393" width="1" height="16.4" fill="#5050ff"/>
<rect x="554" y="395" width="1" height="14.4" fill="#5050ff"/>
<rect x="511" y="397" width="1" height="12.4" fill="#9a9aff"/>
<rect x="602" y="397.2" width="1" height="12.2" fill="#ff3030"/>
<rect x="519" y="399.7" width="1" height="9.7" fill="#ff3030"/>
<rect x="553" y="399.9" width="1" height="9.5" fill="#ff6464"/>
<rect x="607" y="400.1" width="1" height="9.3" fill="#9a9aff"/>
<rect x="494" y="401.9" width="1" height="7.5" fill="#ff3030"/>
<rect x="539" y="401.9" width="1" height="7.5" fill="#ff3030"/>
<rect x="579" y="401.9" width="1" height="7.5" fill="#ff6464"/>
<rect x="589" y="401.9" width="1" height="7.5" fill="#ff6464"/>
<rect x="594" y="401.9" width="1" height="7.5" fill="#ff6464"/>
<rect x="604" y="401.9" width="1" height="7.5" fill="#9a9aff"/>
<rect x="630" y="401.9" width="1" height="7.5" fill="#5050ff"/>
<rect x="511" y="404" width="1" height="5.4" fill="#0000ff"/>
<rect x="513" y="404" width="1" height="5.4" fill="#ff8a8a"/>
<rect x="554" y="404.1" width="1" height="5.3" fill="#0000ff"/>
<rect x="570" y="404.1" width="1" height="5.3" fill="#9a9aff"/>
<rect x="589" y="405" width="1" height="4.4" fill="#5000b0"/>
<rect x="664" y="406.9" width="1" height="2.5" fill="#5050ff"/>
<rect x="552" y="407" width="1" height="2.4" fill="#ff8a8a"/>
<rect x="604" y="407" width="1" height="2.4" fill="#0000ff"/>
<rect x="669" y="408.5" width="1" height="0.9" fill="#5050ff"/>
</svg>
<svg width="685" height="447" viewBox="0 0 685 447">
<rect x="0" y="0" width="1" height="447" fill="#000"/><rect x="90.2" y="0" width="1.05" height="447" fill="#111"/><rect x="288.1" y="0" width="1.0" height="447" fill="#111"/><rect x="486" y="0" width="1" height="447" fill="#111"/><rect x="684" y="0" width="1" height="447" fill="#000"/><rect x="0" y="0" width="685" height="1.15" fill="#111"/><rect x="0" y="34.55" width="685" height="1.05" fill="#111"/><rect x="0" y="129" width="685" height="1" fill="#1a1a1a"/><rect x="0" y="223.6" width="685" height="1.15" fill="#111"/><rect x="0" y="318" width="685" height="1" fill="#1a1a1a"/><rect x="0" y="412.6" width="685" height="1.15" fill="#111"/>

<polygon points="144.3,430.2 151.5,415.5 199.5,415.5 199.5,445.3 151.9,445.3" fill="#a8d18d" stroke="#55704a" stroke-width="1"/>
<polygon points="348.1,430.2 355.2,415.5 402.5,415.5 402.5,445.3 355.5,445.3" fill="#a8d18d" stroke="#55704a" stroke-width="1"/>
<polygon points="541.5,415.5 599.8,415.5 607.4,430.3 599.8,445.3 541.5,445.3" fill="#a8d18d" stroke="#55704a" stroke-width="1"/>

</svg>
<div class="h" style="left:91.2px;top:9.1px">uspB</div>
<div class="h" style="left:289.2px;top:9.1px">xseB</div>
<div class="h" style="left:487.3px;top:9.1px">mutT</div>
<div class="t" style="left:2.8px;top:64.80px">Unstressed</div>
<div class="t" style="left:2.8px;top:82.80px">control</div>
<div class="t" style="left:2.8px;top:159.80px">Piperacillin</div>
<div class="t" style="left:2.8px;top:176.80px">(1 μg/mL)</div>
<div class="t" style="left:2.8px;top:253.80px">Tazobactam</div>
<div class="t" style="left:2.8px;top:271.80px">(32 μg/mL)</div>
<div class="t" style="left:2.8px;top:329.80px">Piperacillin</div>
<div class="t" style="left:2.8px;top:347.80px">(1 μg/mL) +</div>
<div class="t" style="left:2.8px;top:365.80px">Tazobactam</div>
<div class="t" style="left:2.8px;top:383.80px">(32 μg/mL)</div>
<div class="g" style="left:159.7px;top:423.3px">uspB</div>
<div class="g" style="left:363.5px;top:423.3px;letter-spacing:-0.2px">xseB</div>
<div class="g" style="left:558px;top:423.3px;letter-spacing:-0.25px">mutT</div>
</body></html>
